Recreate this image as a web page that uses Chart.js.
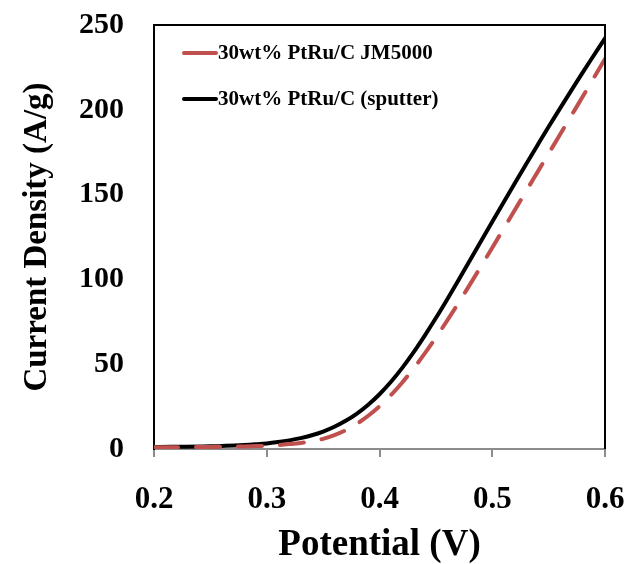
<!DOCTYPE html>
<html>
<head>
<meta charset="utf-8">
<script src="https://cdn.jsdelivr.net/npm/chart.js@4/dist/chart.umd.min.js"></script>
<style>
  html, body { margin: 0; padding: 0; background: #fff; }
  #wrap { width: 629px; height: 564px; position: relative; }
</style>
</head>
<body>
<div id="wrap"><canvas id="c" width="629" height="564"></canvas></div>
<script>
// Potential (V) sample points
const potential = [0.20, 0.25, 0.28, 0.29, 0.30, 0.31, 0.32, 0.33, 0.34, 0.35, 0.36, 0.37, 0.38, 0.39,
  0.40, 0.41, 0.42, 0.43, 0.44, 0.45, 0.46, 0.47, 0.48, 0.49, 0.50, 0.51, 0.52, 0.53, 0.54,
  0.55, 0.56, 0.57, 0.58, 0.59, 0.60];

// Current density (A/g), commercial catalyst
const jm5000 = [1.0, 1.2, 1.5, 1.7, 1.9, 2.3, 2.9, 3.6, 4.6, 6.0, 8.2, 11.1, 14.9, 19.6,
  25.2, 31.7, 39.1, 47.3, 56.2, 65.7, 75.7, 86.1, 96.8, 107.7, 118.7, 129.8, 140.9, 152, 163.1,
  174.2, 185.3, 196.4, 207.5, 218.7, 230];

// Current density (A/g), sputtered catalyst
const sputter = [1.2, 1.6, 2.4, 2.8, 3.3, 4.1, 5.1, 6.4, 8.1, 10.3, 13.1, 16.6, 20.9, 26.1,
  32.3, 39.5, 47.7, 56.8, 66.7, 77.2, 88.2, 99.5, 111, 122.5, 134, 145.4, 156.7, 167.9, 179,
  190, 200.7, 211.3, 221.8, 232, 242.2];

const seriesNames = ['30wt% PtRu/C JM5000', '30wt% PtRu/C (sputter)'];
const xTicks = [0.2, 0.3, 0.4, 0.5, 0.6];
const yTicks = [0, 50, 100, 150, 200, 250];

const SERIF = '"Liberation Serif", "Times New Roman", serif';
const RED = '#C0504D';

const toPoints = ys => potential.map((x, i) => ({ x, y: ys[i] }));

// keep the plot box where the layout puts it (no extra room for overhanging labels)
const noOverhang = s => { s.paddingTop = 0; s.paddingBottom = 0; s.paddingLeft = 0; s.paddingRight = 0; };

// frame (top/right edges) and the in-plot legend
const framePlugin = {
  id: 'frame',
  afterDatasetsDraw(chart) {
    const { ctx, chartArea: a } = chart;
    ctx.save();
    ctx.strokeStyle = '#000';
    ctx.lineWidth = 2;
    ctx.beginPath();
    ctx.moveTo(a.left, a.top);
    ctx.lineTo(a.right, a.top);
    ctx.lineTo(a.right, a.bottom);
    ctx.stroke();

    const rows = [
      { label: chart.data.datasets[0].label, color: RED, y: a.top + 28 },
      { label: chart.data.datasets[1].label, color: '#000', y: a.top + 74 }
    ];
    ctx.font = 'bold 21px ' + SERIF;
    ctx.textBaseline = 'middle';
    ctx.textAlign = 'left';
    rows.forEach(r => {
      ctx.strokeStyle = r.color;
      ctx.lineWidth = 4;
      ctx.lineCap = 'round';
      ctx.beginPath();
      ctx.moveTo(a.left + 30, r.y);
      ctx.lineTo(a.left + 62, r.y);
      ctx.stroke();
      ctx.fillStyle = '#000';
      ctx.fillText(r.label, a.left + 64, r.y + 1);
    });
    ctx.restore();
  }
};

new Chart(document.getElementById('c'), {
  type: 'line',
  data: {
    datasets: [
      {
        label: seriesNames[0],
        data: toPoints(jm5000),
        borderColor: RED,
        borderWidth: 4,
        borderDash: [24, 18],
        borderCapStyle: 'round',
        pointRadius: 0,
        cubicInterpolationMode: 'monotone',
        fill: false
      },
      {
        label: seriesNames[1],
        data: toPoints(sputter),
        borderColor: '#000',
        borderWidth: 4,
        borderCapStyle: 'round',
        pointRadius: 0,
        cubicInterpolationMode: 'monotone',
        fill: false
      }
    ]
  },
  options: {
    responsive: false,
    animation: false,
    devicePixelRatio: 1,
    layout: { padding: { left: 0, right: 24, top: 25, bottom: 0 } },
    plugins: {
      legend: { display: false },
      tooltip: { enabled: false }
    },
    scales: {
      x: {
        type: 'linear',
        min: 0.2,
        max: 0.6,
        afterBuildTicks: s => { s.ticks = xTicks.map(v => ({ value: v })); },
        afterFit: s => { s.height = 115; noOverhang(s); },
        grid: { drawOnChartArea: false, drawTicks: true, tickLength: 8, color: '#8c8c8c', lineWidth: 2 },
        border: { color: '#8c8c8c', width: 2 },
        ticks: {
          color: '#000',
          padding: 24,
          font: { family: SERIF, size: 31, weight: 'bold' },
          callback: v => v.toFixed(1)
        },
        title: {
          display: true,
          text: 'Potential (V)',
          color: '#000',
          font: { family: SERIF, size: 37, weight: 'bold', lineHeight: 1 },
          padding: { top: 0, bottom: 0 }
        }
      },
      y: {
        min: 0,
        max: 250,
        afterBuildTicks: s => { s.ticks = yTicks.map(v => ({ value: v })); },
        afterFit: s => { s.width = 154; noOverhang(s); },
        grid: { display: false, drawTicks: false },
        border: { color: '#000', width: 2 },
        ticks: {
          color: '#000',
          padding: 30,
          font: { family: SERIF, size: 30, weight: 'bold' }
        },
        title: {
          display: true,
          text: 'Current Density (A/g)',
          color: '#000',
          font: { family: SERIF, size: 33, weight: 'bold' },
          padding: { top: 18, bottom: 0 }
        }
      }
    }
  },
  plugins: [framePlugin]
});
</script>
</body>
</html>
